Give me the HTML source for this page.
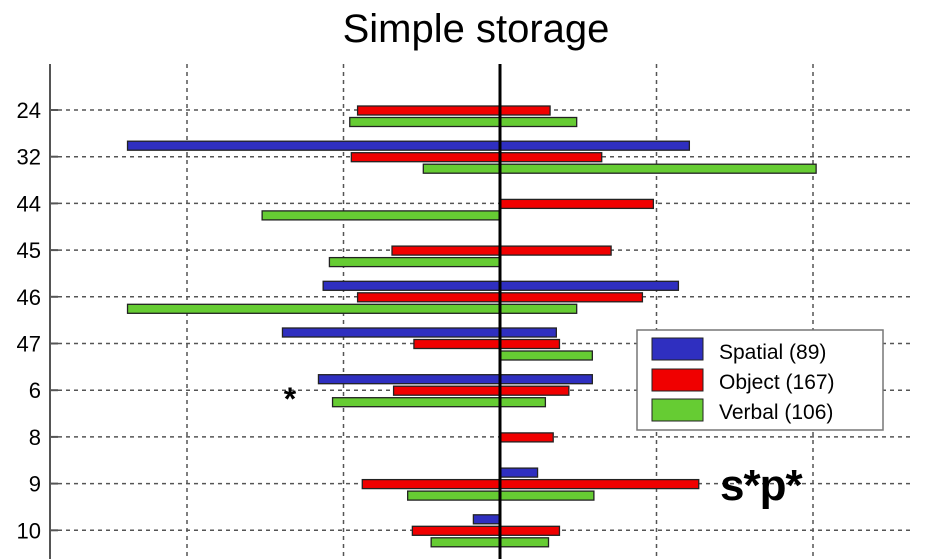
<!DOCTYPE html>
<html><head><meta charset="utf-8"><style>
body{margin:0;background:#fff;}
svg{display:block;font-family:"Liberation Sans",sans-serif;}
</style></head><body>
<svg id="chart" width="929" height="559" viewBox="0 0 929 559">
<text x="476" y="42" text-anchor="middle" font-size="40">Simple storage</text>
<g id="grid"></g>
<g id="bars"></g>
<g id="labels"></g>
<line x1="50" y1="64" x2="50" y2="559" stroke="#555" stroke-width="2"/>
<line x1="500" y1="64" x2="500" y2="559" stroke="#000" stroke-width="3"/>
<text x="290" y="410" text-anchor="middle" font-size="32" font-weight="bold">*</text>
<text x="720" y="500" font-size="44" font-weight="bold" letter-spacing="-1">s*p*</text>
<g>
<rect x="637" y="330" width="246" height="100" fill="#fff" stroke="#777" stroke-width="1.5"/>
<rect x="652" y="338" width="51" height="22" fill="#2f2fc0" stroke="#222"/>
<text x="719" y="359" font-size="21">Spatial (89)</text>
<rect x="652" y="369" width="51" height="22" fill="#f00000" stroke="#222"/>
<text x="719" y="389" font-size="21">Object (167)</text>
<rect x="652" y="399" width="51" height="22" fill="#66cc33" stroke="#222"/>
<text x="719" y="419" font-size="21">Verbal (106)</text>
</g>
</svg>
<script>
const categories = ["24","32","44","45","46","47","6","8","9","10"];
const spatialLow  = [0, -2.38, 0, 0, -1.13, -1.39, -1.16, 0, 0, -0.17];
const spatialHigh = [0, 1.21, 0, 0, 1.14, 0.36, 0.59, 0, 0.24, 0];
const objectLow   = [-0.91, -0.95, 0, -0.69, -0.91, -0.55, -0.68, 0, -0.88, -0.56];
const objectHigh  = [0.32, 0.65, 0.98, 0.71, 0.91, 0.38, 0.44, 0.34, 1.27, 0.38];
const verbalLow   = [-0.96, -0.49, -1.52, -1.09, -2.38, 0, -1.07, 0, -0.59, -0.44];
const verbalHigh  = [0.49, 2.02, 0, 0, 0.49, 0.59, 0.29, 0, 0.60, 0.31];
const xTicks = [-2, -1, 0, 1, 2];

const NS = "http://www.w3.org/2000/svg";
const xs = v => 500 + v * 156.5;
const ys = i => 110 + i * 46.7;
function mk(tag, attrs, parent){const e=document.createElementNS(NS,tag);for(const k in attrs)e.setAttribute(k,attrs[k]);parent.appendChild(e);return e;}
const grid=document.getElementById('grid'), bars=document.getElementById('bars'), labels=document.getElementById('labels');
xTicks.forEach(t=>{ if(t===0) return;
  const l=mk('line',{x1:xs(t),x2:xs(t),y1:64,y2:559,stroke:'#555','stroke-width':1.5,'stroke-dasharray':'4,4'},grid);
  
  
});
categories.forEach((c,i)=>{
  const y=ys(i);
  const l=mk('line',{x1:50,x2:912,y1:y,y2:y,stroke:'#555','stroke-width':1.5,'stroke-dasharray':'4,4'},grid);
  
  
  const tk=mk('line',{x1:50,x2:58,y1:y,y2:y,stroke:'#555','stroke-width':2},grid);
  
  
  const t=mk('text',{x:41,y:y+8,'text-anchor':'end','font-size':22},labels);
  t.textContent=c;
  
  
});
const series=[["spatial",spatialLow,spatialHigh,"#2f2fc0",-11.5],["object",objectLow,objectHigh,"#f00000",0],["verbal",verbalLow,verbalHigh,"#66cc33",11.5]];
series.forEach(([name,lo,hi,col,off])=>{
  categories.forEach((c,i)=>{
    const cy=ys(i)+0.5+off;
    [lo[i],hi[i]].forEach(v=>{
      if(v===0) return;
      const x0=Math.min(xs(0),xs(v)), w=Math.abs(xs(v)-xs(0));
      const r=mk('rect',{x:x0,y:cy-4.5,width:w,height:9,fill:col,stroke:'#222','stroke-width':1.3},bars);
      
      
    });
  });
});
</script>
</body></html>
